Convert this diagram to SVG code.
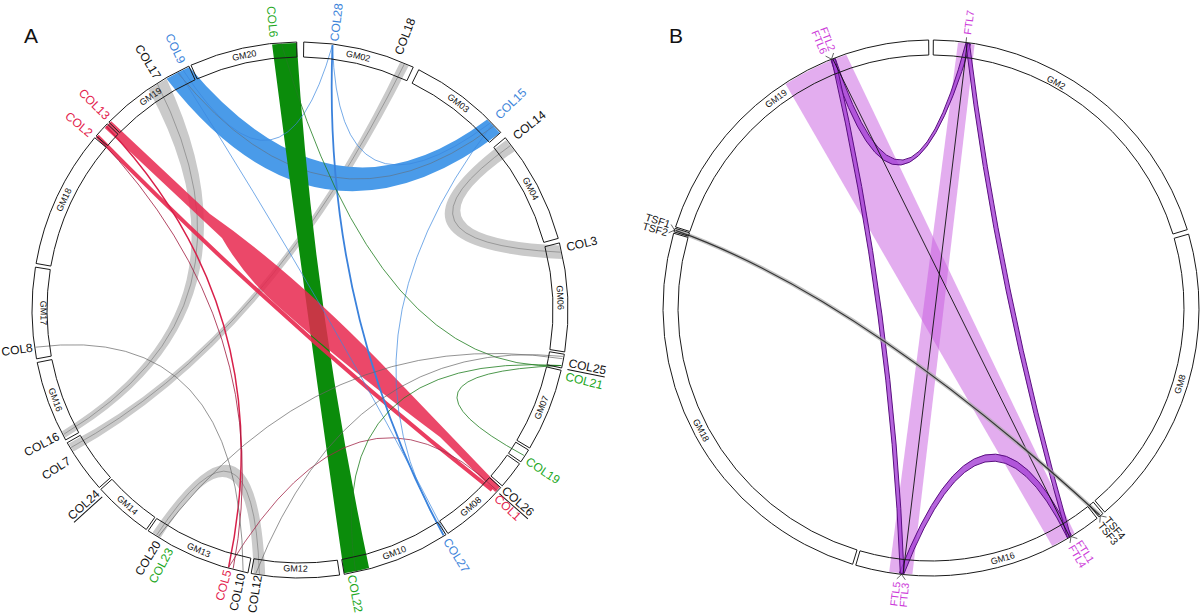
<svg xmlns="http://www.w3.org/2000/svg" width="1200" height="615" viewBox="0 0 1200 615">
<style>
.seg{fill:none;stroke:#1a1a1a;stroke-width:1}
.gm{font-family:"Liberation Sans",Arial,sans-serif;font-size:9px;fill:#111;text-anchor:middle;dominant-baseline:central}
.lab{font-family:"Liberation Sans",Arial,sans-serif;font-size:12px;dominant-baseline:central}
.labB{font-family:"Liberation Sans",Arial,sans-serif;font-size:10.5px;dominant-baseline:central}
.s{text-anchor:start}.e{text-anchor:end}
.cb{fill:#3d84da}.cg{fill:#22a722}.cr{fill:#e3204c}.ck{fill:#111}.cm{fill:#cc3ad9}
.ul{stroke:#111;stroke-width:1}
.gray{fill:#cacaca}
.bl{fill:none;stroke:#3b86de;stroke-width:0.7}
.gl{fill:none;stroke:#1f7d1f;stroke-width:0.8}
.kl{fill:none;stroke:#666;stroke-width:0.7}
.cl{fill:none;stroke:#666;stroke-width:0.5}
.lav{fill:#c75ce0;fill-opacity:0.5}
.pur{fill:#a43fd4;fill-opacity:0.8;stroke:#5a0f80;stroke-width:1}
.tick{stroke:#222;stroke-width:0.7;fill:none}
.panel{font-family:"Liberation Sans",Arial,sans-serif;font-size:21px;fill:#111}
</style>

<text class="panel" x="24" y="43">A</text>
<text class="panel" x="669" y="43">B</text>

<!-- connectors panel A -->
<g id="connectors-A">
  <path class="gray" d="M148.8,90.0 A267,267 0 0 1 166.5,78.8 Q276,312 65.4,437.4 A267,267 0 0 1 62.1,431.2 Q266,306 148.8,90.0 Z"/>
  <path class="gray" d="M400.0,62.4 A267,267 0 0 1 408.6,66.1 Q270,342 73.6,451.5 A267,267 0 0 1 68.8,443.5 Q267,340 400.0,62.4 Z"/>
  <path class="gray" d="M506.0,140.2 A267,267 0 0 1 514.6,151.2 Q387.1,237.7 559.1,245.4 A267,267 0 0 1 562.1,259.1 Q359.9,248.3 506.0,140.2 Z"/>
  <path class="gray" d="M265.2,574.7 A267,267 0 0 1 253.6,572.9 Q248.9,400.7 160.5,537.7 A267,267 0 0 1 152.6,532.6 Q257.1,378.3 265.2,574.7 Z"/>
  <path class="cl" d="M157.5,84.2 Q271,309 63.7,434.3"/>
  <path class="cl" d="M404.3,64.2 Q268,340 71.1,447.5"/>
  <path class="cl" d="M510.4,145.6 Q373.5,243 560.7,252.2"/>
  <path class="cl" d="M259.4,573.9 Q253,390 156.6,535.2"/>
  <path fill="#4a9be9" d="M166.5,78.8 A267,267 0 0 1 189.3,67.0 Q331.8,236.7 487.1,119.6 A267,267 0 0 1 500.0,133.1 Q316.8,272.1 166.5,78.8 Z"/>
  <path class="cl" d="M177.7,72.7 Q324,254 493.7,126.2"/>
  <path fill="#0b8c0b" d="M272.1,44.5 A267,267 0 0 1 296.7,43.0 Q313.1,304.5 369.1,567.9 A267,267 0 0 1 344.1,573.3 Q306,309 272.1,44.5 Z"/>
  <path fill="#e8284f" fill-opacity="0.85" d="M104.7,127.9 A267,267 0 0 1 111.2,121.2 L210,214 Q290,270 380,362 L500.0,486.9 A267,267 0 0 1 495.3,492.1 L440,437 Q350,370 280,308 Q245,278 222,238 Z"/>
  <path fill="none" stroke="#e8284f" stroke-opacity="0.9" stroke-width="4" d="M97.3,136.2 Q285,327 492,490"/>
  <path fill="none" stroke="#d8204a" stroke-width="1.5" d="M106.3,126.2 Q282.5,313.2 228.6,567.3"/>
  <path fill="none" stroke="#a0183c" stroke-width="0.8" d="M97.0,136.6 Q278.9,327.4 233.2,568.5"/>
  <path fill="none" stroke="#a3284a" stroke-width="0.8" d="M228.6,567.3 Q357.2,355.1 496.9,490.4"/>
  <path fill="none" stroke="#3b82dc" stroke-width="1.8" d="M332.5,45 Q322,309.9 443.5,535.2"/>
  <path class="bl" d="M332.5,45 Q282.3,222.5 183,70"/>
  <path class="bl" d="M332.5,45 Q338.5,236 490.4,122.9"/>
  <path class="bl" d="M178.8,72.1 Q331.9,313 445.4,533.9"/>
  <path class="bl" d="M492.1,124.5 Q328.2,340.1 443.5,535.2"/>
  <path class="gl" d="M281.4,43.7 Q378.7,375.4 561.2,365.5"/>
  <path class="gl" d="M561.2,365.5 Q373.4,373.5 523.9,455.4"/>
  <path class="gl" d="M561.2,365.5 Q321.6,351.6 355.5,571.2"/>
  <path class="kl" d="M158.5,536.4 Q319.5,322.4 562.5,358.7"/>
  <path class="kl" d="M35.6,347.2 Q240.6,321 243.1,570.9"/>
  <path class="kl" d="M255.9,573.3 Q350.6,335.1 562.9,356.4"/>
</g>

<!-- segments panel A -->
<g id="A-GM02"><path class="seg" d="M303.74,42.03 A268,268 0 0 1 413.26,67.11 L406.92,80.70 A253,253 0 0 0 303.53,57.03 Z"/><text class="gm" transform="translate(358.2,56.1) rotate(12.9)">GM02</text></g>
<g id="A-GM03"><path class="seg" d="M418.74,69.74 A268,268 0 0 1 500.72,132.42 L489.49,142.36 A253,253 0 0 0 412.10,83.19 Z"/><text class="gm" transform="translate(458.2,103.1) rotate(37.4)">GM03</text></g>
<g id="A-GM04"><path class="seg" d="M505.30,137.73 A268,268 0 0 1 558.25,238.38 L543.80,242.39 A253,253 0 0 0 493.81,147.37 Z"/><text class="gm" transform="translate(530.5,188.7) rotate(62.25)">GM04</text></g>
<g id="A-GM06"><path class="seg" d="M559.46,242.90 A268,268 0 0 1 564.70,351.92 L549.89,349.58 A253,253 0 0 0 544.94,246.65 Z"/><text class="gm" transform="translate(560.2,297.5) rotate(87.25)">GM06</text></g>
<g id="A-S25"><path class="seg" d="M564.33,354.23 A268,268 0 0 1 561.65,368.01 L547.00,364.76 A253,253 0 0 0 549.53,351.76 Z"/></g>
<g id="A-GM07"><path class="seg" d="M561.13,370.29 A268,268 0 0 1 529.72,448.03 L516.86,440.31 A253,253 0 0 0 546.52,366.91 Z"/><text class="gm" transform="translate(541.5,407.6) rotate(-68)">GM07</text></g>
<g id="A-S19"><path class="seg" d="M528.51,450.03 A268,268 0 0 1 520.87,461.80 L508.50,453.30 A253,253 0 0 0 515.72,442.19 Z"/></g>
<g id="A-S26"><path class="seg" d="M519.53,463.72 A268,268 0 0 1 502.26,485.82 L490.94,475.98 A253,253 0 0 0 507.24,455.12 Z"/></g>
<g id="A-GM08"><path class="seg" d="M500.72,487.58 A268,268 0 0 1 447.92,533.48 L439.64,520.97 A253,253 0 0 0 489.49,477.64 Z"/><text class="gm" transform="translate(470.9,506.6) rotate(-41)">GM08</text></g>
<g id="A-GM10"><path class="seg" d="M445.96,534.76 A268,268 0 0 1 344.23,574.33 L341.76,559.53 A253,253 0 0 0 437.79,522.18 Z"/><text class="gm" transform="translate(394.4,552.8) rotate(-21.25)">GM10</text></g>
<g id="A-GM12"><path class="seg" d="M339.61,575.06 A268,268 0 0 1 251.16,573.51 L253.89,558.76 A253,253 0 0 0 337.40,560.22 Z"/><text class="gm" transform="translate(295.5,568.5) rotate(1)">GM12</text></g>
<g id="A-GM13"><path class="seg" d="M247.95,572.90 A268,268 0 0 1 148.20,530.87 L156.70,518.50 A253,253 0 0 0 250.86,558.18 Z"/><text class="gm" transform="translate(198.8,550.1) rotate(22.85)">GM13</text></g>
<g id="A-GM14"><path class="seg" d="M146.28,529.53 A268,268 0 0 1 100.84,489.33 L111.99,479.29 A253,253 0 0 0 154.88,517.24 Z"/><text class="gm" transform="translate(127.4,505.1) rotate(41.5)">GM14</text></g>
<g id="A-S7"><path class="seg" d="M99.28,487.58 A268,268 0 0 1 67.21,442.78 L80.24,435.35 A253,253 0 0 0 110.51,477.64 Z"/></g>
<g id="A-GM16"><path class="seg" d="M65.60,439.93 A268,268 0 0 1 37.20,362.51 L51.91,359.58 A253,253 0 0 0 78.72,432.66 Z"/><text class="gm" transform="translate(55.4,399.7) rotate(69.85)">GM16</text></g>
<g id="A-GM17"><path class="seg" d="M36.49,358.84 A268,268 0 0 1 35.45,267.15 L50.25,269.55 A253,253 0 0 0 51.24,356.11 Z"/><text class="gm" transform="translate(43.5,313.0) rotate(89.35)">GM17</text></g>
<g id="A-GM18"><path class="seg" d="M36.07,263.46 A268,268 0 0 1 94.70,137.73 L106.19,147.37 A253,253 0 0 0 50.84,266.07 Z"/><text class="gm" transform="translate(63.9,199.9) rotate(-65)">GM18</text></g>
<g id="A-S13"><path class="seg" d="M96.21,135.95 A268,268 0 0 1 107.22,123.83 L118.01,134.25 A253,253 0 0 0 107.62,145.69 Z"/></g>
<g id="A-GM19"><path class="seg" d="M108.85,122.16 A268,268 0 0 1 188.86,66.13 L195.08,79.78 A253,253 0 0 0 119.55,132.67 Z"/><text class="gm" transform="translate(150.6,96.6) rotate(-35)">GM19</text></g>
<g id="A-GM20"><path class="seg" d="M190.99,65.17 A268,268 0 0 1 296.73,42.02 L296.91,57.02 A253,253 0 0 0 197.09,78.87 Z"/><text class="gm" transform="translate(244.3,55.5) rotate(-12.35)">GM20</text></g>

<!-- gene labels panel A -->
<g id="A-COL28" transform="translate(334.2,41.2) rotate(-82.75)"><text class="lab s cb">COL28</text></g>
<g id="A-COL18" transform="translate(398.2,54.2) rotate(-69)"><text class="lab s ck">COL18</text></g>
<g id="A-COL15" transform="translate(497.1,117.0) rotate(-44)"><text class="lab s cb">COL15</text></g>
<g id="A-COL14" transform="translate(514.5,137.0) rotate(-38.5)"><text class="lab s ck">COL14</text></g>
<g id="A-COL3" transform="translate(566.5,247.4) rotate(-13)"><text class="lab s ck">COL3</text></g>
<g id="A-COL25" transform="translate(568.7,363.2) rotate(11.2)"><text class="lab s ck">COL25</text><line class="ul" x1="0" y1="6.5" x2="38" y2="6.5"/></g>
<g id="A-COL21" transform="translate(565.8,376.3) rotate(14)"><text class="lab s cg">COL21</text></g>
<g id="A-COL19" transform="translate(527.0,460.2) rotate(33.5)"><text class="lab s cg">COL19</text></g>
<g id="A-COL26" transform="translate(503.6,488.8) rotate(41.3)"><text class="lab s ck">COL26</text><line class="ul" x1="0" y1="6.5" x2="38" y2="6.5"/></g>
<g id="A-COL1" transform="translate(496.3,496.9) rotate(43.6)"><text class="lab s cr">COL1</text></g>
<g id="A-COL27" transform="translate(446.1,539.4) rotate(57.5)"><text class="lab s cb">COL27</text></g>
<g id="A-COL22" transform="translate(351.5,575.0) rotate(79)"><text class="lab s cg">COL22</text></g>
<g id="A-COL12" transform="translate(258.0,575.2) rotate(-81)"><text class="lab e ck">COL12</text></g>
<g id="A-COL10" transform="translate(241.6,573.6) rotate(-77.5)"><text class="lab e ck">COL10</text></g>
<g id="A-COL5" transform="translate(227.8,570.2) rotate(-74.5)"><text class="lab e cr">COL5</text></g>
<g id="A-COL23" transform="translate(170.2,549.0) rotate(-61.5)"><text class="lab e cg">COL23</text></g>
<g id="A-COL20" transform="translate(157.9,541.9) rotate(-58.5)"><text class="lab e ck">COL20</text></g>
<g id="A-COL24" transform="translate(97.9,492.0) rotate(-42)"><text class="lab e ck">COL24</text><line class="ul" x1="-38" y1="6.5" x2="0" y2="6.5"/></g>
<g id="A-COL7" transform="translate(69.4,459.8) rotate(-33)"><text class="lab e ck">COL7</text></g>
<g id="A-COL16" transform="translate(58.7,435.6) rotate(-27.5)"><text class="lab e ck">COL16</text></g>
<g id="A-COL8" transform="translate(32.6,347.6) rotate(-8)"><text class="lab e ck">COL8</text></g>
<g id="A-COL2" transform="translate(90.9,134.5) rotate(40)"><text class="lab e cr">COL2</text></g>
<g id="A-COL13" transform="translate(107.7,117.7) rotate(45)"><text class="lab e cr">COL13</text></g>
<g id="A-COL17" transform="translate(157.9,78.1) rotate(58.5)"><text class="lab e ck">COL17</text></g>
<g id="A-COL9" transform="translate(182,62.7) rotate(64.5)"><text class="lab e cb">COL9</text></g>
<g id="A-COL6" transform="translate(273.7,37.3) rotate(84.5)"><text class="lab e cg">COL6</text></g>

<!-- connectors panel B -->
<g id="connectors-B">
  <path class="lav" d="M785.6,84.1 A267,267 0 0 1 846.3,54.8 L1074.5,533.2 A267,267 0 0 1 1052.2,545.9 Z"/>
  <path class="lav" d="M958.0,42.4 A267,267 0 0 1 974.6,44.6 L912.4,574.3 A267,267 0 0 1 889.2,571.7 Z"/>
  <path class="pur" d="M831,60.4 A267,267 0 0 1 835.3,58.7 Q905.4,269 965.85,43.3 A267,267 0 0 1 970.5,43.9 Q901.2,277.8 831,60.4 Z"/>
  <path class="pur" d="M1071.3,535.2 A267,267 0 0 1 1067.3,537.6 Q984.3,368.4 904,573.6 A267,267 0 0 1 899.4,573.1 Q984.6,355.8 1071.3,535.2 Z"/>
  <path class="pur" d="M831.8,60.1 A267,267 0 0 1 835.3,58.7 Q894.3,313.8 904,573.6 A267,267 0 0 1 900.3,573.2 Q889.9,315.3 831.8,60.1 Z"/>
  <path class="pur" d="M965.85,43.3 A267,267 0 0 1 969.5,43.8 Q1000,288.2 1070.5,535.7 A267,267 0 0 1 1067.3,537.6 Q995.4,289.5 965.85,43.3 Z"/>
  <path fill="none" stroke="#111" stroke-width="0.9" d="M833.1,59.6 L1069.3,536.4"/>
  <path fill="none" stroke="#111" stroke-width="0.9" d="M967.2,43.5 L903.1,573.5"/>
  <path fill="none" stroke="#aaa" stroke-opacity="0.7" stroke-width="4" d="M675.5,230.4 Q862.4,297.3 1099.6,515"/>
  <path fill="none" stroke="#333" stroke-width="1.2" d="M675.5,230.4 Q862.4,297.3 1099.6,515"/>
</g>

<!-- segments panel B -->
<g id="B-GM2"><path class="seg" d="M933.34,40.01 A268,268 0 0 1 1187.29,229.64 L1172.94,234.03 A253,253 0 0 0 933.21,55.01 Z"/><text class="gm" transform="translate(1056,82.5) rotate(29)">GM2</text></g>
<g id="B-GM8"><path class="seg" d="M1188.62,234.13 A268,268 0 0 1 1104.70,512.09 L1094.97,500.67 A253,253 0 0 0 1174.20,238.26 Z"/><text class="gm" transform="translate(1180.1,384.2) rotate(-73)">GM8</text></g>
<g id="B-S34"><path class="seg" d="M1102.91,513.60 A268,268 0 0 1 1098.93,516.86 L1089.53,505.17 A253,253 0 0 0 1093.29,502.09 Z"/></g>
<g id="B-GM16"><path class="seg" d="M1097.10,518.32 A268,268 0 0 1 855.78,565.23 L859.99,550.83 A253,253 0 0 0 1087.81,506.55 Z"/><text class="gm" transform="translate(1002.8,558.4) rotate(-16)">GM16</text></g>
<g id="B-GM18"><path class="seg" d="M852.64,564.29 A268,268 0 0 1 673.64,233.23 L688.05,237.42 A253,253 0 0 0 857.03,549.94 Z"/><text class="gm" transform="translate(701.0,430.3) rotate(62)">GM18</text></g>
<g id="B-S12"><path class="seg" d="M674.04,231.88 A268,268 0 0 1 675.12,228.30 L689.45,232.77 A253,253 0 0 0 688.42,236.14 Z"/></g>
<g id="B-GM19"><path class="seg" d="M675.55,226.96 A268,268 0 0 1 928.66,40.01 L928.79,55.01 A253,253 0 0 0 689.84,231.50 Z"/><text class="gm" transform="translate(776.1,98.6) rotate(-36.5)">GM19</text></g>

<!-- gene labels panel B -->
<g id="B-ticks">
  <path class="tick" d="M825.6,56.1 L831.5,59.2 L833.6,53"/>
  <path class="tick" d="M966,42.3 L966.6,37.3"/>
  <path class="tick" d="M896.8,578.8 L901.6,574.4 L905.3,579.8"/>
  <path class="tick" d="M1077.3,538.5 L1071,536.5 L1070,543"/>
  <path class="tick" d="M671.1,224.5 L674.6,230.1 L668.6,232.8"/>
  <path class="tick" d="M1106.5,517.1 L1100.3,515.8 L1099.8,522.5"/>
</g>
<g id="B-FTL2" transform="translate(832.5,50.2) rotate(69.1)"><text class="labB e cm">FTL2</text></g>
<g id="B-FTL6" transform="translate(824.5,53.4) rotate(67.3)"><text class="labB e cm">FTL6</text></g>
<g id="B-FTL7" transform="translate(967.0,34.4) rotate(-82.5)"><text class="labB s cm">FTL7</text></g>
<g id="B-FTL5" transform="translate(896.4,581.8) rotate(-82.8)"><text class="labB e cm">FTL5</text></g>
<g id="B-FTL3" transform="translate(905.0,582.8) rotate(-84.6)"><text class="labB e cm">FTL3</text></g>
<g id="B-FTL1" transform="translate(1078.9,541.0) rotate(57.6)"><text class="labB s cm">FTL1</text></g>
<g id="B-FTL4" transform="translate(1071.5,545.6) rotate(59.4)"><text class="labB s cm">FTL4</text></g>
<g id="B-TSF1" transform="translate(670.1,224.2) rotate(17.8)"><text class="labB e ck">TSF1</text></g>
<g id="B-TSF2" transform="translate(667.6,232.5) rotate(16)"><text class="labB e ck">TSF2</text></g>
<g id="B-TSF4" transform="translate(1107.1,517.9) rotate(50)"><text class="labB s ck">TSF4</text></g>
<g id="B-TSF3" transform="translate(1100.4,523.3) rotate(51.8)"><text class="labB s ck">TSF3</text></g>
</svg>
